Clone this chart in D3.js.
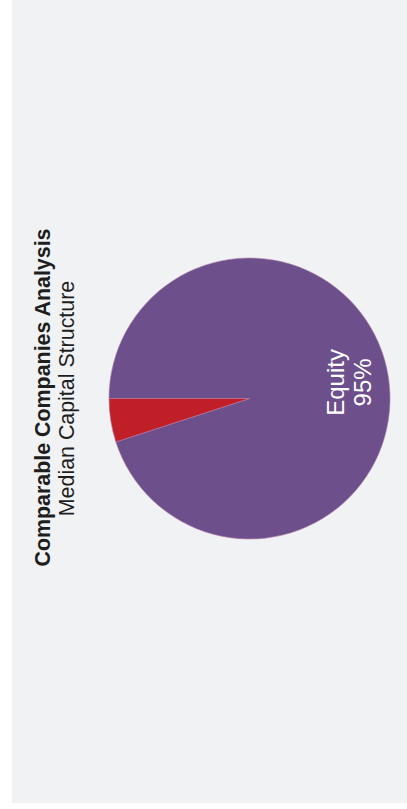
<!DOCTYPE html>
<html>
<head>
<meta charset="utf-8">
<script src="https://cdn.jsdelivr.net/npm/d3@7"></script>
<style>
  html, body { margin: 0; padding: 0; background: #ffffff; }
  svg { display: block; }
  text { font-family: "Liberation Sans", Arial, Helvetica, sans-serif; }
</style>
</head>
<body>
<svg id="chart" width="407" height="809"></svg>
<script>
// Median capital structure of the comparable companies set
const categories = ["Equity", "Debt"];
const shares = [95, 5];
const sliceColors = ["#6c4f8b", "#c01f28"];
const titleText = "Comparable Companies Analysis";
const subtitleText = "Median Capital Structure";

const svg = d3.select("#chart");

// The chart is laid out landscape and turned a quarter turn counter-clockwise.
const panel = { x: 12, y: 0, w: 395, h: 803 };   // on-screen panel
const W = panel.h, H = panel.w;                     // landscape width / height

svg.append("rect")
  .attr("x", panel.x).attr("y", panel.y)
  .attr("width", panel.w).attr("height", panel.h)
  .attr("fill", "#f1f2f4");

const g = svg.append("g")
  .attr("transform", `translate(${panel.x},${panel.y + panel.h}) rotate(-90)`);

const cx = W / 2 + 3, cy = 237.5, radius = 140.5;

// Titles
g.append("text")
  .attr("x", cx + 1).attr("y", 38)
  .attr("text-anchor", "middle")
  .attr("font-size", 21.4).attr("font-weight", "bold")
  .attr("fill", "#1e1e1e")
  .text(titleText);

g.append("text")
  .attr("x", cx).attr("y", 62)
  .attr("text-anchor", "middle")
  .attr("font-size", 21.4)
  .attr("fill", "#1e1e1e")
  .text(subtitleText);

// Pie
const data = categories.map((c, i) => ({ name: c, value: shares[i], color: sliceColors[i] }));
const pie = d3.pie().sort(null).value(d => d.value);
const arcs = pie(data);
const arc = d3.arc().innerRadius(0).outerRadius(radius);
const labelArc = d3.arc().innerRadius(radius * 0.73).outerRadius(radius * 0.73);

const pg = g.append("g").attr("transform", `translate(${cx},${cy})`);

pg.selectAll("path")
  .data(arcs)
  .join("path")
  .attr("d", arc)
  .attr("fill", d => d.data.color)
  .attr("stroke", "#b07aa8")
  .attr("stroke-width", 0.6)
  .attr("stroke-linejoin", "round");

// Only slices big enough to hold text get a label
const labelled = arcs.filter(d => d.endAngle - d.startAngle > 0.5);
const lab = pg.selectAll("text.slice-label")
  .data(labelled)
  .join("text")
  .attr("class", "slice-label")
  .attr("transform", d => `translate(${labelArc.centroid(d)})`)
  .attr("text-anchor", "middle")
  .attr("fill", "#ffffff")
  .attr("font-size", 24);

lab.append("tspan").attr("x", 0).attr("dy", "-0.3em").text(d => d.data.name);
lab.append("tspan").attr("x", 0).attr("dy", "1.15em").text(d => d.data.value + "%");
</script>
</body>
</html>
